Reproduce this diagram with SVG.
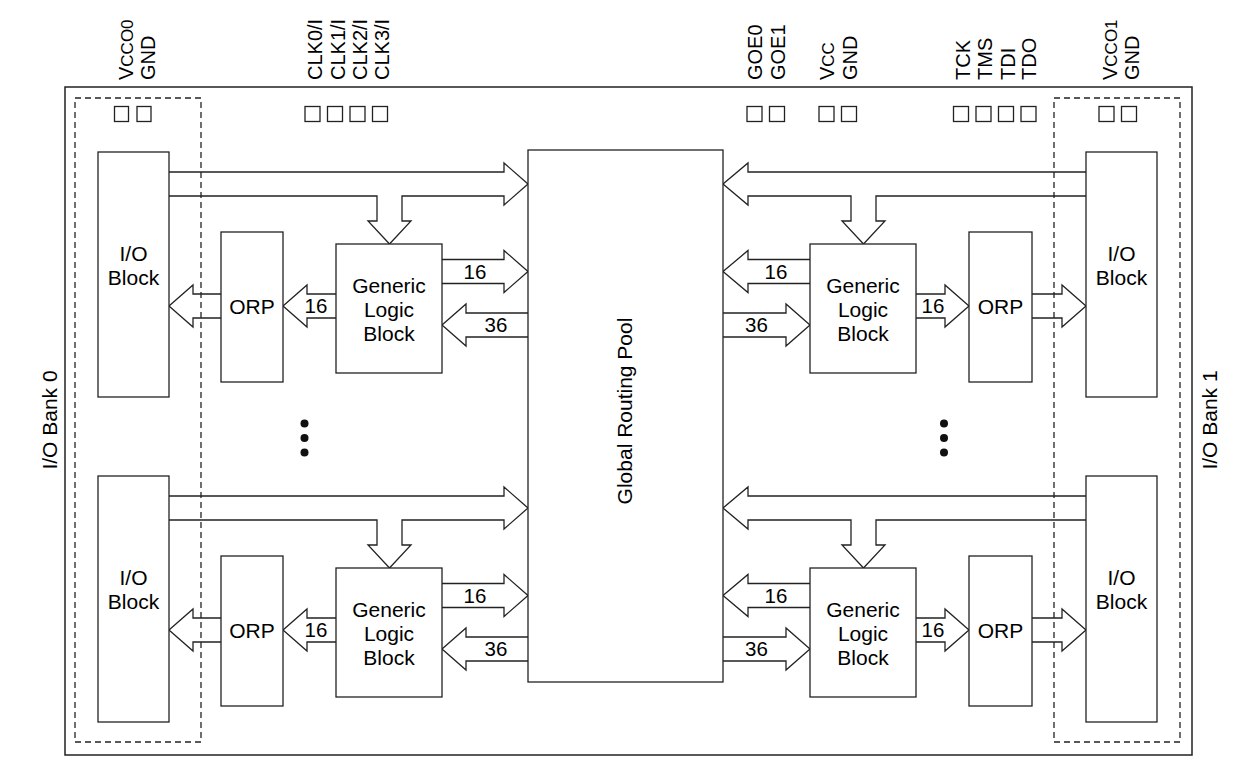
<svg xmlns="http://www.w3.org/2000/svg" width="1244" height="772" viewBox="0 0 1244 772">
<style>
.box{fill:#fff;stroke:#222;stroke-width:1.3}
.arr{fill:#fff;stroke:#222;stroke-width:1.3;stroke-linejoin:miter}
.dash{fill:none;stroke:#222;stroke-width:1.3;stroke-dasharray:6 4}
.pin{fill:#fff;stroke:#222;stroke-width:1.3}
text{font-family:"Liberation Sans",Arial,sans-serif;font-size:20px;fill:#000}
.c{text-anchor:middle}
.t{font-size:21px}
.n{font-size:20.5px}
.sub{font-size:17px}
</style>
<rect x="0" y="0" width="1244" height="772" fill="#fff"/>
<rect id="outer" x="65" y="87" width="1127" height="668" fill="none" stroke="#222" stroke-width="1.5"/>

<g id="connectors">
<path class="arr" d="M169,172 H504 V163 L528,184 L504,205 V196 H402 V221 H411 L389.5,244 L368,221 H377 V196 H169"/>
<path class="arr" d="M442,259.5 H504 V250.5 L528,271.5 L504,292.5 V283.5 H442"/>
<path class="arr" d="M528,313 H466 V304 L442,325 L466,346 V337 H528"/>
<path class="arr" d="M336,294 H307 V285 L283,306 L307,327 V318 H336"/>
<path class="arr" d="M221,294 H193 V285 L169,306 L193,327 V318 H221"/>
<path class="arr" d="M169,496 H504 V487 L528,508 L504,529 V520 H402 V545 H411 L389.5,568 L368,545 H377 V520 H169"/>
<path class="arr" d="M442,583.5 H504 V574.5 L528,595.5 L504,616.5 V607.5 H442"/>
<path class="arr" d="M528,637 H466 V628 L442,649 L466,670 V661 H528"/>
<path class="arr" d="M336,618 H307 V609 L283,630 L307,651 V642 H336"/>
<path class="arr" d="M221,618 H193 V609 L169,630 L193,651 V642 H221"/>
<path class="arr" d="M1086,172 H748 V163 L723,184 L748,205 V196 H851 V221 H842 L863.5,244 L885,221 H876 V196 H1086"/>
<path class="arr" d="M810,259.5 H748 V250.5 L723,271.5 L748,292.5 V283.5 H810"/>
<path class="arr" d="M723,313 H786 V304 L810,325 L786,346 V337 H723"/>
<path class="arr" d="M916,294 H945 V285 L969,306 L945,327 V318 H916"/>
<path class="arr" d="M1032,294 H1062 V285 L1086,306 L1062,327 V318 H1032"/>
<path class="arr" d="M1086,496 H748 V487 L723,508 L748,529 V520 H851 V545 H842 L863.5,568 L885,545 H876 V520 H1086"/>
<path class="arr" d="M810,583.5 H748 V574.5 L723,595.5 L748,616.5 V607.5 H810"/>
<path class="arr" d="M723,637 H786 V628 L810,649 L786,670 V661 H723"/>
<path class="arr" d="M916,618 H945 V609 L969,630 L945,651 V642 H916"/>
<path class="arr" d="M1032,618 H1062 V609 L1086,630 L1062,651 V642 H1032"/>
<text class="c n" x="475" y="278.5">16</text>
<text class="c n" x="496" y="332">36</text>
<text class="c n" x="316" y="313">16</text>
<text class="c n" x="475" y="602.5">16</text>
<text class="c n" x="496" y="656">36</text>
<text class="c n" x="316" y="637">16</text>
<text class="c n" x="776" y="278.5">16</text>
<text class="c n" x="756.5" y="332">36</text>
<text class="c n" x="933" y="313">16</text>
<text class="c n" x="776" y="602.5">16</text>
<text class="c n" x="756.5" y="656">36</text>
<text class="c n" x="933" y="637">16</text>
</g>

<g id="grp"><rect class="box" x="528" y="150" width="195" height="532"/><text class="c t" transform="translate(632,411) rotate(-90)">Global Routing Pool</text></g>

<g id="io-tl"><rect class="box" x="98" y="152" width="71" height="245"/><text class="c t" x="133.5" y="260.5">I/O</text><text class="c t" x="133.5" y="284.5">Block</text></g>
<g id="io-bl"><rect class="box" x="98" y="476" width="71" height="246"/><text class="c t" x="133.5" y="585">I/O</text><text class="c t" x="133.5" y="609">Block</text></g>
<g id="io-tr"><rect class="box" x="1086" y="152" width="71" height="245"/><text class="c t" x="1121.5" y="260.5">I/O</text><text class="c t" x="1121.5" y="284.5">Block</text></g>
<g id="io-br"><rect class="box" x="1086" y="476" width="71" height="246"/><text class="c t" x="1121.5" y="585">I/O</text><text class="c t" x="1121.5" y="609">Block</text></g>

<g id="orp-tl"><rect class="box" x="221" y="232" width="62" height="150"/><text class="c t" x="252" y="314">ORP</text></g>
<g id="orp-bl"><rect class="box" x="221" y="556" width="62" height="150"/><text class="c t" x="252" y="638">ORP</text></g>
<g id="orp-tr"><rect class="box" x="969" y="232" width="63" height="150"/><text class="c t" x="1000.5" y="314">ORP</text></g>
<g id="orp-br"><rect class="box" x="969" y="556" width="63" height="150"/><text class="c t" x="1000.5" y="638">ORP</text></g>

<g id="glb-tl"><rect class="box" x="336" y="244" width="106" height="129"/><text class="c t" x="389" y="293">Generic</text><text class="c t" x="389" y="317">Logic</text><text class="c t" x="389" y="341">Block</text></g>
<g id="glb-bl"><rect class="box" x="336" y="568" width="106" height="129"/><text class="c t" x="389" y="617">Generic</text><text class="c t" x="389" y="641">Logic</text><text class="c t" x="389" y="665">Block</text></g>
<g id="glb-tr"><rect class="box" x="810" y="244" width="106" height="129"/><text class="c t" x="863" y="293">Generic</text><text class="c t" x="863" y="317">Logic</text><text class="c t" x="863" y="341">Block</text></g>
<g id="glb-br"><rect class="box" x="810" y="568" width="106" height="129"/><text class="c t" x="863" y="617">Generic</text><text class="c t" x="863" y="641">Logic</text><text class="c t" x="863" y="665">Block</text></g>

<g id="bank0"><rect class="dash" x="75" y="98" width="126" height="644"/><text class="c t" transform="translate(57,420) rotate(-90)">I/O Bank 0</text></g>
<g id="bank1"><rect class="dash" x="1054" y="98" width="126" height="644"/><text class="c t" transform="translate(1217,420) rotate(-90)">I/O Bank 1</text></g>

<g id="dots">
<circle cx="304.5" cy="423.5" r="4" fill="#111"/><circle cx="304.5" cy="438" r="4" fill="#111"/><circle cx="304.5" cy="452.5" r="4" fill="#111"/>
<circle cx="944" cy="423.5" r="4" fill="#111"/><circle cx="944" cy="438" r="4" fill="#111"/><circle cx="944" cy="452.5" r="4" fill="#111"/>
</g>

<g id="pins">
<rect class="pin" x="114.5" y="106.5" width="14" height="15"/><rect class="pin" x="137" y="106.5" width="14" height="15"/>
<rect class="pin" x="305" y="106.5" width="15" height="15"/><rect class="pin" x="327.5" y="106.5" width="15" height="15"/><rect class="pin" x="350" y="106.5" width="15" height="15"/><rect class="pin" x="372.5" y="106.5" width="15" height="15"/>
<rect class="pin" x="747" y="106.5" width="15" height="15"/><rect class="pin" x="769.5" y="106.5" width="15" height="15"/>
<rect class="pin" x="819" y="106.5" width="15" height="15"/><rect class="pin" x="841.5" y="106.5" width="15" height="15"/>
<rect class="pin" x="953.5" y="106.5" width="15" height="15"/><rect class="pin" x="976" y="106.5" width="15" height="15"/><rect class="pin" x="998.5" y="106.5" width="15" height="15"/><rect class="pin" x="1021" y="106.5" width="15" height="15"/>
<rect class="pin" x="1099" y="106.5" width="15" height="15"/><rect class="pin" x="1121.5" y="106.5" width="15" height="15"/>
</g>

<g id="pin-labels">
<text transform="translate(133,80) rotate(-90)">V<tspan class="sub">CCO0</tspan></text>
<text transform="translate(155,80) rotate(-90)">GND</text>
<text transform="translate(322,80) rotate(-90)">CLK0/I</text>
<text transform="translate(344.5,80) rotate(-90)">CLK1/I</text>
<text transform="translate(367,80) rotate(-90)">CLK2/I</text>
<text transform="translate(389,80) rotate(-90)">CLK3/I</text>
<text transform="translate(762,80) rotate(-90)">GOE0</text>
<text transform="translate(785,80) rotate(-90)">GOE1</text>
<text transform="translate(834,80) rotate(-90)">V<tspan class="sub">CC</tspan></text>
<text transform="translate(857,80) rotate(-90)">GND</text>
<text transform="translate(969.5,80) rotate(-90)">TCK</text>
<text transform="translate(992,80) rotate(-90)">TMS</text>
<text transform="translate(1014.5,80) rotate(-90)">TDI</text>
<text transform="translate(1036,80) rotate(-90)">TDO</text>
<text transform="translate(1117,80) rotate(-90)">V<tspan class="sub">CCO1</tspan></text>
<text transform="translate(1139,80) rotate(-90)">GND</text>
</g>
</svg>
